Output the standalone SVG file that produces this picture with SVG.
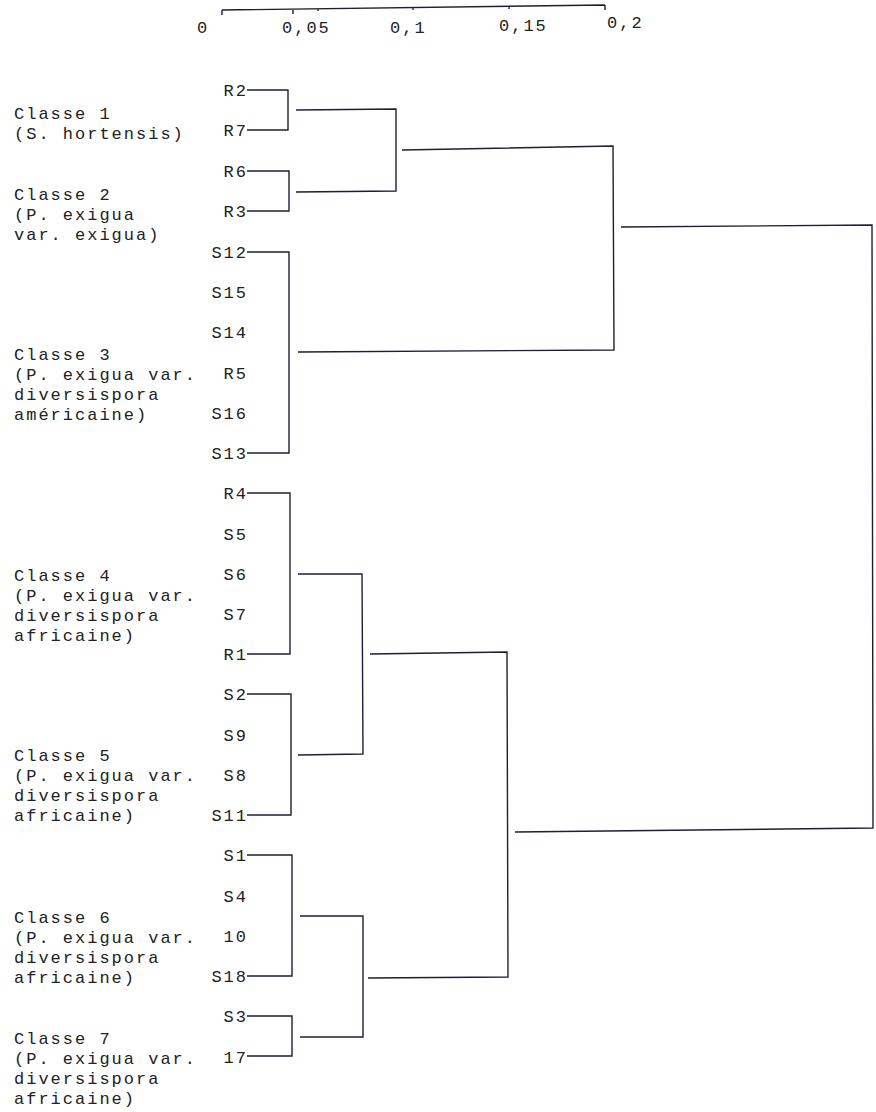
<svg xmlns="http://www.w3.org/2000/svg" width="876" height="1112" viewBox="0 0 876 1112">
<style>
text{font-family:"Liberation Mono","Courier New",monospace;font-size:17px;letter-spacing:2px;fill:#222}
.leaf text{text-anchor:end}
.ln{fill:none;stroke:#1e1e38;stroke-width:1.4}
</style>
<rect width="876" height="1112" fill="#fff"/>
<g id="axis">
<path class="ln" d="M222,10 L605,5 M222,10 V15 M293,9 V14 M318,9 V11 M413,8 V10 M509,6 V9 M605,5 V10"/>
<text x="197" y="33">0</text>
<text x="282" y="33">0,05</text>
<text x="390" y="33">0,1</text>
<text x="499" y="31">0,15</text>
<text x="607" y="28">0,2</text>
</g>
<g id="classes">
<g id="classe1"><text x="14" y="119">Classe 1</text><text x="14" y="139">(S. hortensis)</text></g>
<g id="classe2"><text x="14" y="200">Classe 2</text><text x="14" y="220">(P. exigua</text><text x="14" y="240">var. exigua)</text></g>
<g id="classe3"><text x="14" y="360">Classe 3</text><text x="14" y="380">(P. exigua var.</text><text x="14" y="400">diversispora</text><text x="14" y="420">américaine)</text></g>
<g id="classe4"><text x="14" y="581">Classe 4</text><text x="14" y="601">(P. exigua var.</text><text x="14" y="621">diversispora</text><text x="14" y="641">africaine)</text></g>
<g id="classe5"><text x="14" y="761">Classe 5</text><text x="14" y="781">(P. exigua var.</text><text x="14" y="801">diversispora</text><text x="14" y="821">africaine)</text></g>
<g id="classe6"><text x="14" y="923">Classe 6</text><text x="14" y="943">(P. exigua var.</text><text x="14" y="963">diversispora</text><text x="14" y="983">africaine)</text></g>
<g id="classe7"><text x="14" y="1044">Classe 7</text><text x="14" y="1064">(P. exigua var.</text><text x="14" y="1084">diversispora</text><text x="14" y="1104">africaine)</text></g>
</g>
<g class="leaf">
<g id="R2"><text x="248" y="96">R2</text></g>
<g id="R7"><text x="248" y="136">R7</text></g>
<g id="R6"><text x="248" y="177">R6</text></g>
<g id="R3"><text x="248" y="217">R3</text></g>
<g id="S12"><text x="248" y="258">S12</text></g>
<g id="S15"><text x="248" y="298">S15</text></g>
<g id="S14"><text x="248" y="338">S14</text></g>
<g id="R5"><text x="248" y="379">R5</text></g>
<g id="S16"><text x="248" y="419">S16</text></g>
<g id="S13"><text x="248" y="459">S13</text></g>
<g id="R4"><text x="248" y="499">R4</text></g>
<g id="S5"><text x="248" y="540">S5</text></g>
<g id="S6"><text x="248" y="580">S6</text></g>
<g id="S7"><text x="248" y="620">S7</text></g>
<g id="R1"><text x="248" y="660">R1</text></g>
<g id="S2"><text x="248" y="700">S2</text></g>
<g id="S9"><text x="248" y="741">S9</text></g>
<g id="S8"><text x="248" y="781">S8</text></g>
<g id="S11"><text x="248" y="821">S11</text></g>
<g id="S1"><text x="248" y="861">S1</text></g>
<g id="S4"><text x="248" y="902">S4</text></g>
<g id="L10"><text x="248" y="942">10</text></g>
<g id="S18"><text x="248" y="982">S18</text></g>
<g id="S3"><text x="248" y="1022">S3</text></g>
<g id="L17"><text x="248" y="1063">17</text></g>
</g>
<g id="connectors">
<polyline class="ln" points="247,90 288,90 288,130 247,130"/>
<polyline class="ln" points="247,171 289,171 289,211 247,211"/>
<polyline class="ln" points="247,252 289,252 289,453 247,453"/>
<polyline class="ln" points="247,493 290,493 290,654 247,654"/>
<polyline class="ln" points="247,694 291,694 291,815 247,815"/>
<polyline class="ln" points="247,855 292,855 292,976 247,976"/>
<polyline class="ln" points="247,1016 292,1016 292,1056 247,1056"/>
<polyline class="ln" points="296,110 396,109 396,191 296,192"/>
<polyline class="ln" points="402,150 613,146 614,350 298,352"/>
<polyline class="ln" points="621,227 872,225 873,828 515,832"/>
<polyline class="ln" points="298,574 362,574 363,754 298,755"/>
<polyline class="ln" points="370,654 507,652 508,977 368,978"/>
<polyline class="ln" points="300,916 363,916 363,1037 300,1037"/>
</g>
</svg>
